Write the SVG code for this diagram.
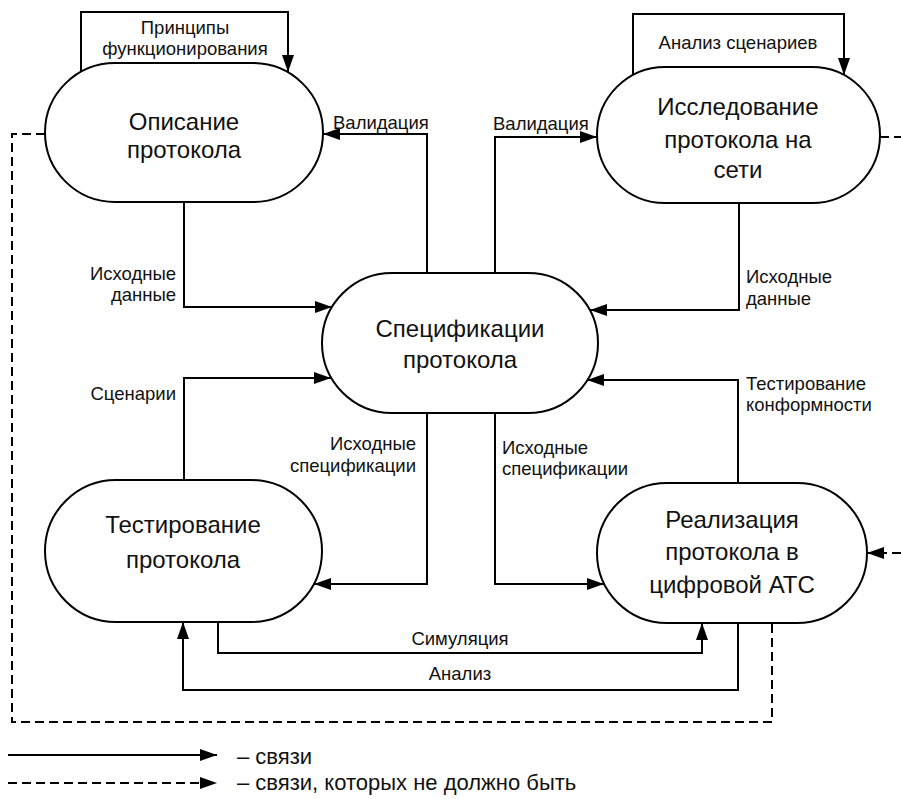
<svg xmlns="http://www.w3.org/2000/svg" width="901" height="799" viewBox="0 0 901 799">
<style>
.node{fill:#fff;stroke:#000;stroke-width:2}
.nt{font-family:"Liberation Sans",Arial,sans-serif;font-size:24px;fill:#111;text-anchor:middle}
.lb{font-family:"Liberation Sans",Arial,sans-serif;font-size:18.5px;fill:#111}
.lg{font-family:"Liberation Sans",Arial,sans-serif;font-size:22px;fill:#111}
.ln{fill:none;stroke:#000;stroke-width:2}
.ds{fill:none;stroke:#000;stroke-width:2;stroke-dasharray:9,5}
</style>
<defs>
<marker id="ah" markerUnits="userSpaceOnUse" markerWidth="18" markerHeight="12" refX="17" refY="6" orient="auto">
<path d="M0,0 L17,6 L0,12 Z" fill="#000"/>
</marker>
</defs>
<g id="connectors">
<path class="ln" d="M81,72 V12 H288 V72" marker-end="url(#ah)"/>
<path class="ln" d="M633,75 V14 H844 V75" marker-end="url(#ah)"/>
<path class="ln" d="M427,273 V134 H323" marker-end="url(#ah)"/>
<path class="ln" d="M495,273 V137 H597" marker-end="url(#ah)"/>
<path class="ln" d="M184,202 V307 H332" marker-end="url(#ah)"/>
<path class="ln" d="M739,203 V310 H590" marker-end="url(#ah)"/>
<path class="ln" d="M184,480 V378 H331" marker-end="url(#ah)"/>
<path class="ln" d="M738,483 V380 H587" marker-end="url(#ah)"/>
<path class="ln" d="M427,413 V584 H314" marker-end="url(#ah)"/>
<path class="ln" d="M495,413 V584 H604" marker-end="url(#ah)"/>
<path class="ln" d="M218,622 V653 H702 V623" marker-end="url(#ah)"/>
<path class="ln" d="M738,623 V690 H183 V622" marker-end="url(#ah)"/>
<path class="ds" d="M45,134 H12 V722 H772 V623"/>
<path class="ds" d="M880,137 H901"/>
<path class="ds" d="M901,553 H867" marker-end="url(#ah)"/>
</g>
<g id="labels">
<text class="lb" x="185" y="34" text-anchor="middle">Принципы</text>
<text class="lb" x="185" y="55" text-anchor="middle">функционирования</text>
<text class="lb" x="738" y="49" text-anchor="middle">Анализ сценариев</text>
<text class="lb" x="333" y="129">Валидация</text>
<text class="lb" x="493" y="130">Валидация</text>
<text class="lb" x="176" y="280" text-anchor="end">Исходные</text>
<text class="lb" x="176" y="301" text-anchor="end">данные</text>
<text class="lb" x="746" y="283">Исходные</text>
<text class="lb" x="746" y="305">данные</text>
<text class="lb" x="176" y="400" text-anchor="end">Сценарии</text>
<text class="lb" x="746" y="390">Тестирование</text>
<text class="lb" x="746" y="411">конформности</text>
<text class="lb" x="416" y="450" text-anchor="end">Исходные</text>
<text class="lb" x="416" y="472" text-anchor="end">спецификации</text>
<text class="lb" x="502" y="454">Исходные</text>
<text class="lb" x="502" y="475">спецификации</text>
<text class="lb" x="460" y="645" text-anchor="middle">Симуляция</text>
<text class="lb" x="460" y="680" text-anchor="middle">Анализ</text>
</g>
<g id="n-opisanie">
<rect class="node" x="45" y="63" width="278" height="139" rx="70" ry="70"/>
<text class="nt" x="184" y="130">Описание</text>
<text class="nt" x="184" y="158">протокола</text>
</g>
<g id="n-issledovanie">
<rect class="node" x="597" y="67" width="283" height="136" rx="68" ry="68"/>
<text class="nt" x="738" y="115">Исследование</text>
<text class="nt" x="738" y="148">протокола на</text>
<text class="nt" x="738" y="178">сети</text>
</g>
<g id="n-spec">
<rect class="node" x="322" y="273" width="276" height="140" rx="70" ry="70"/>
<text class="nt" x="460" y="337">Спецификации</text>
<text class="nt" x="460" y="368">протокола</text>
</g>
<g id="n-test">
<rect class="node" x="45" y="480" width="277" height="142" rx="71" ry="71"/>
<text class="nt" x="183" y="533">Тестирование</text>
<text class="nt" x="183" y="568">протокола</text>
</g>
<g id="n-real">
<rect class="node" x="597" y="483" width="270" height="140" rx="70" ry="70"/>
<text class="nt" x="732" y="528">Реализация</text>
<text class="nt" x="732" y="560">протокола в</text>
<text class="nt" x="732" y="593">цифровой АТС</text>
</g>
<g id="legend">
<path class="ln" d="M8,755 H217" marker-end="url(#ah)"/>
<path class="ds" d="M8,783 H217" marker-end="url(#ah)"/>
<text class="lg" x="237" y="764">– связи</text>
<text class="lg" x="237" y="790">– связи, которых не должно быть</text>
</g>
</svg>
